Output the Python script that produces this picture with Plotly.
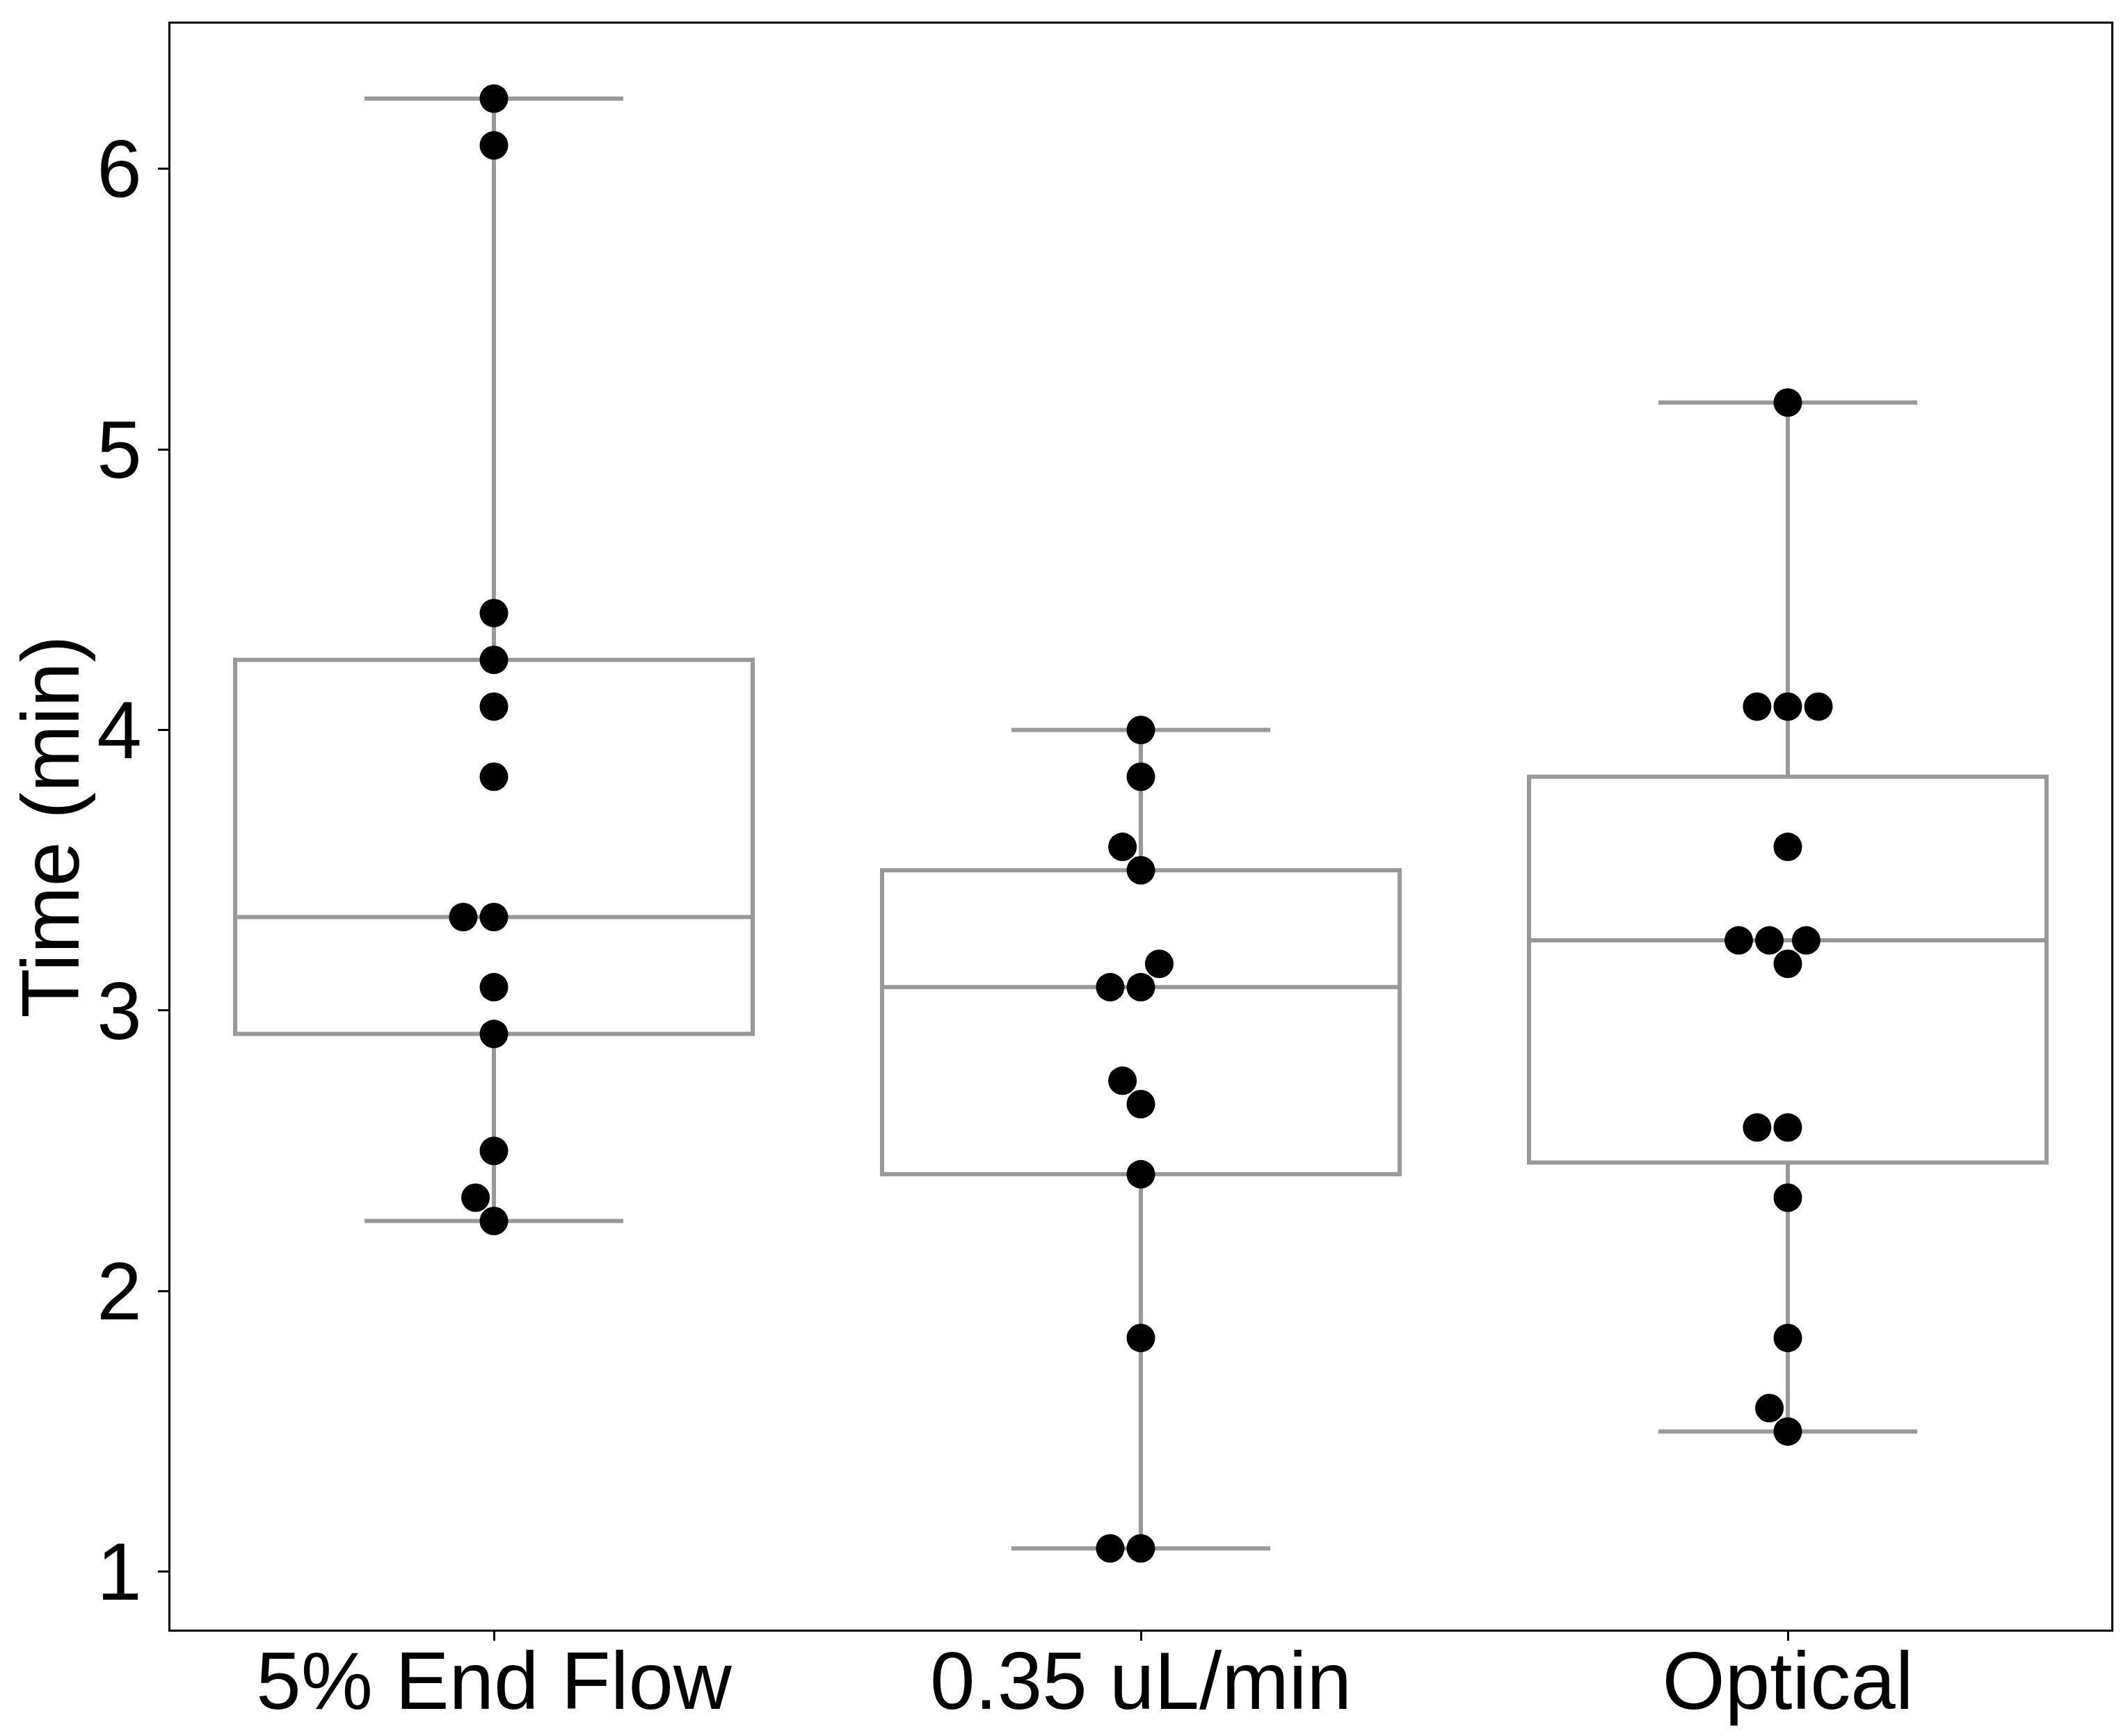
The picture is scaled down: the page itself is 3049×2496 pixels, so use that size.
import numpy as np
import plotly.graph_objects as go

# data, read in seconds and shown in minutes
categories = ['5% End Flow', '0.35 uL/min', 'Optical']
end_flow_s = [375, 365, 265, 255, 245, 230, 200, 200, 185, 175, 150, 140, 135]
flow_rate_s = [240, 230, 215, 210, 190, 185, 185, 165, 160, 145, 110, 65, 65]
optical_s = [310, 245, 245, 245, 215, 195, 195, 195, 190, 155, 155, 140, 110, 95, 90]
groups = [[t / 60 for t in g] for g in (end_flow_s, flow_rate_s, optical_s)]
y_ticks = [1, 2, 3, 4, 5, 6]

# page geometry (the html body adds an 8px margin around the figure)
W, H = 3049, 2496
body = 8
fig_w, fig_h = W - 2 * body, H - 2 * body
plot_left, plot_right, plot_top, plot_bottom = 245, 3035, 34, 2343
margin_l = plot_left - body
margin_r = (body + fig_w) - plot_right
margin_t = plot_top - body
margin_b = (body + fig_h) - plot_bottom

y_range = [0.794, 6.517]
x_range = [-0.5, 2.5]
x_px = (plot_right - plot_left) / (x_range[1] - x_range[0])
y_px = (plot_bottom - plot_top) / (y_range[1] - y_range[0])
marker_d = 41
radius = 21

font = 'Liberation Sans, Arial, sans-serif'
gray = '#999999'


def swarm(values):
    # beeswarm layout in pixel space, points placed from lowest to highest
    vals = np.asarray(values, dtype=float)
    order = np.argsort(vals, kind='stable')
    placed = []
    offsets = np.zeros(len(vals))
    for idx in order:
        y_i = vals[idx] * y_px
        neighbors = []
        for x_j, y_j in reversed(placed):
            if y_i - y_j < 2 * radius:
                neighbors.append((x_j, y_j))
            else:
                break
        neighbors = neighbors[::-1]
        candidates = [0.0]
        left_first = True
        for x_j, y_j in neighbors:
            dy = y_i - y_j
            dx = np.sqrt(max((2 * radius) ** 2 - dy ** 2, 0)) * 1.05
            if left_first:
                candidates += [x_j - dx, x_j + dx]
            else:
                candidates += [x_j + dx, x_j - dx]
            left_first = not left_first
        candidates.sort(key=abs)
        chosen = candidates[-1]
        for c in candidates:
            ok = all((c - x_j) ** 2 + (y_i - y_j) ** 2 >= (2 * radius) ** 2 - 1e-6
                     for x_j, y_j in neighbors)
            if ok:
                chosen = c
                break
        placed.append((chosen, y_i))
        offsets[idx] = chosen
    return offsets / x_px


def box_stats(values):
    v = np.sort(np.asarray(values, dtype=float))
    q1, med, q3 = np.percentile(v, [25, 50, 75])
    iqr = q3 - q1
    lo = v[v >= q1 - 1.5 * iqr - 1e-9].min()
    hi = v[v <= q3 + 1.5 * iqr + 1e-9].max()
    return q1, med, q3, lo, hi


stats = [box_stats(g) for g in groups]

fig = go.Figure()

fig.add_trace(go.Box(
    x=list(range(len(categories))),
    q1=[s[0] for s in stats],
    median=[s[1] for s in stats],
    q3=[s[2] for s in stats],
    lowerfence=[s[3] for s in stats],
    upperfence=[s[4] for s in stats],
    width=0.8,
    whiskerwidth=0.5,
    line=dict(color=gray, width=6),
    fillcolor='rgba(0,0,0,0)',
    boxpoints=False,
    showlegend=False,
))

for i, g in enumerate(groups):
    fig.add_trace(go.Scatter(
        x=i + swarm(g),
        y=g,
        mode='markers',
        marker=dict(color='black', size=marker_d, line=dict(width=0)),
        showlegend=False,
    ))

fig.update_layout(
    width=fig_w, height=fig_h,
    margin=dict(l=margin_l, r=margin_r, t=margin_t, b=margin_b),
    paper_bgcolor='white', plot_bgcolor='white',
    font=dict(family=font, size=116, color='black'),
)

fig.update_xaxes(
    range=x_range, tickvals=list(range(len(categories))), ticktext=categories,
    showline=True, linecolor='black', linewidth=3, mirror=True,
    ticks='outside', ticklen=13, tickwidth=2.5, tickcolor='black',
    tickfont=dict(family=font, size=116, color='black'),
    ticklabelstandoff=-41,
    showgrid=False, zeroline=False, automargin=False,
)
fig.update_yaxes(
    range=y_range, tickvals=y_ticks,
    showline=True, linecolor='black', linewidth=3, mirror=True,
    ticks='outside', ticklen=15, tickwidth=2.5, tickcolor='black',
    tickfont=dict(family=font, size=116, color='black'),
    title=dict(text='Time (min)', font=dict(family=font, size=116, color='black'), standoff=18),
    showgrid=False, zeroline=False, automargin=False,
)

fig.write_html("out.html")
